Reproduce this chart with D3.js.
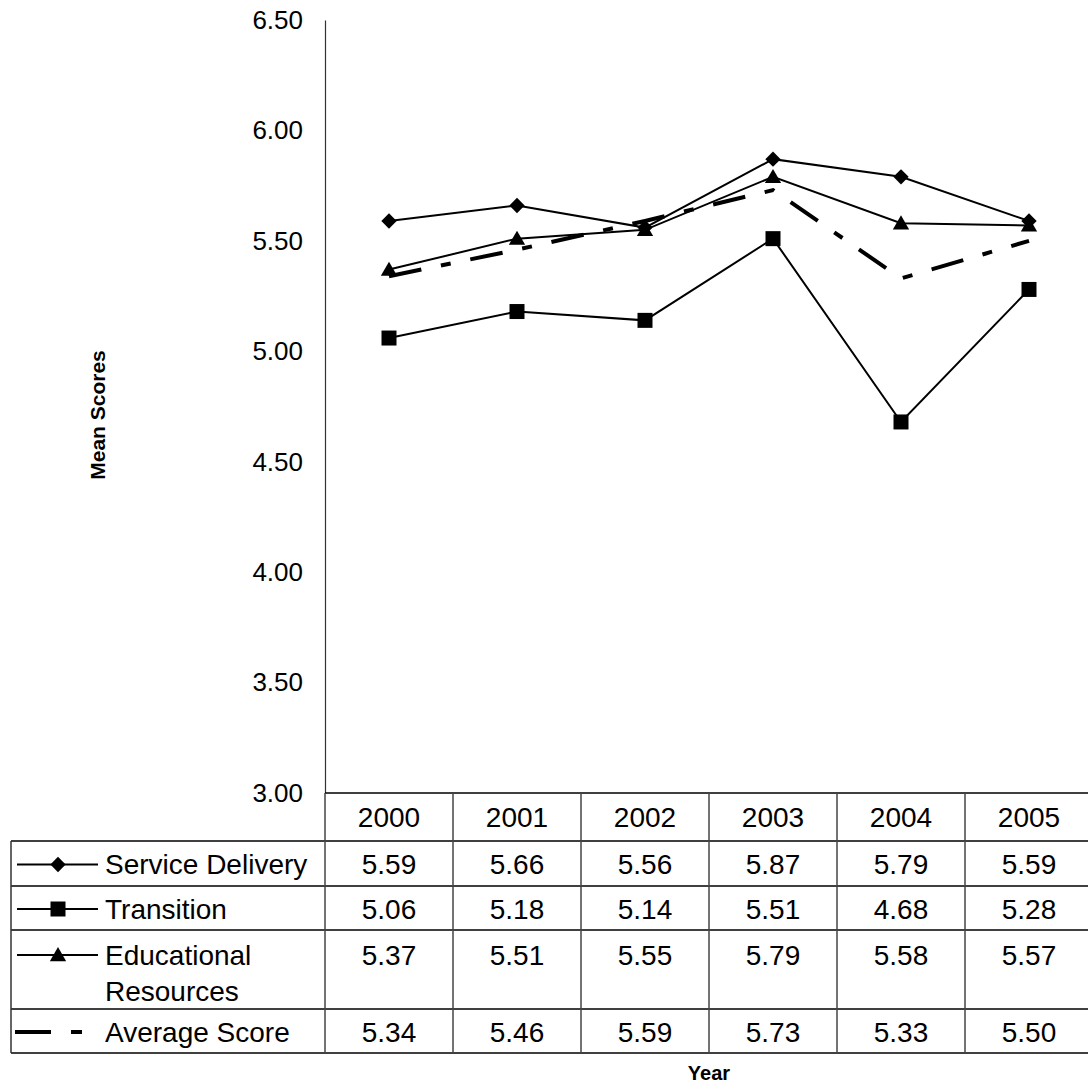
<!DOCTYPE html>
<html>
<head>
<meta charset="utf-8">
<script src="https://cdn.jsdelivr.net/npm/d3@7"></script>
<style>
  html, body { margin: 0; padding: 0; background: #fff; }
  svg { display: block; font-family: "Liberation Sans", Arial, sans-serif; }
</style>
</head>
<body>
<svg id="chart" width="1088" height="1084"></svg>
<script>
// Mean scores by year, one array per series
const years = ["2000", "2001", "2002", "2003", "2004", "2005"];
const serviceDelivery = [5.59, 5.66, 5.56, 5.87, 5.79, 5.59];
const transition = [5.06, 5.18, 5.14, 5.51, 4.68, 5.28];
const educationalResources = [5.37, 5.51, 5.55, 5.79, 5.58, 5.57];
const averageScore = [5.34, 5.46, 5.59, 5.73, 5.33, 5.50];
const yTicks = [3.0, 3.5, 4.0, 4.5, 5.0, 5.5, 6.0, 6.5];

const series = [
  { name: ["Service Delivery"], values: serviceDelivery, marker: "diamond", dashed: false },
  { name: ["Transition"], values: transition, marker: "square", dashed: false },
  { name: ["Educational", "Resources"], values: educationalResources, marker: "triangle", dashed: false },
  { name: ["Average Score"], values: averageScore, marker: null, dashed: true }
];

const svg = d3.select("#chart");

const plotLeft = 325, plotRight = 1093, plotTop = 20, plotBottom = 793;

const x = d3.scaleBand().domain(years).range([plotLeft, plotRight]).padding(0);
const y = d3.scaleLinear().domain([3, 6.5]).range([plotBottom, plotTop]);

// Y axis: line without tick marks, labels to the left
const yAxis = d3.axisLeft(y).tickValues(yTicks).tickFormat(d3.format(".2f")).tickSize(0).tickPadding(22);
const gy = svg.append("g").attr("transform", `translate(${plotLeft},0)`).call(yAxis);
gy.select(".domain").attr("stroke", "#333").attr("stroke-width", 1.2);
gy.selectAll("text").attr("font-size", 26).attr("fill", "#000")
  .attr("font-family", "Liberation Sans, Arial, sans-serif");

// Marker shapes
const markerPath = {
  diamond: d3.symbol().type(d3.symbolDiamond2).size(150),
  square: d3.symbol().type(d3.symbolSquare).size(225),
  triangle: d3.symbol().type(d3.symbolTriangle).size(115)
};

const line = d3.line()
  .x((d, i) => x(years[i]) + x.bandwidth() / 2)
  .y(d => y(d));

series.forEach(s => {
  const g = svg.append("g");
  g.append("path")
    .datum(s.values)
    .attr("d", line)
    .attr("fill", "none")
    .attr("stroke", "#000")
    .attr("stroke-width", s.dashed ? 4 : 2)
    .attr("stroke-dasharray", s.dashed ? "33,20,10,20" : null)
    .attr("stroke-linejoin", "miter");
  if (s.marker) {
    g.selectAll("path.m")
      .data(s.values)
      .join("path")
      .attr("class", "m")
      .attr("transform", (d, i) => {
        const dy = s.marker === "triangle" ? 1.5 : 0;
        return `translate(${x(years[i]) + x.bandwidth() / 2},${y(d) + dy})`;
      })
      .attr("d", markerPath[s.marker]())
      .attr("fill", "#000");
  }
});

// Data table beneath the plot
const headerTop = plotBottom, headerBottom = 841;
const rowBounds = [841, 886, 930, 1009, 1053];
const tableLeft = 11;
const tableRight = 1093;
const tableFont = 28;

const table = svg.append("g");

// horizontal rules
table.append("line")
  .attr("x1", plotLeft).attr("x2", tableRight)
  .attr("y1", headerTop).attr("y2", headerTop)
  .attr("stroke", "#000").attr("stroke-width", 1.5);
rowBounds.forEach(yy => {
  table.append("line")
    .attr("x1", tableLeft).attr("x2", tableRight)
    .attr("y1", yy).attr("y2", yy)
    .attr("stroke", "#000").attr("stroke-width", 1.5);
});

// vertical rules
table.append("line")
  .attr("x1", tableLeft).attr("x2", tableLeft)
  .attr("y1", headerBottom).attr("y2", rowBounds[rowBounds.length - 1])
  .attr("stroke", "#333").attr("stroke-width", 1.5);
years.forEach(yr => {
  const xx = x(yr);
  table.append("line")
    .attr("x1", xx).attr("x2", xx)
    .attr("y1", headerTop).attr("y2", rowBounds[rowBounds.length - 1])
    .attr("stroke", "#444").attr("stroke-width", 1.5);
});

// year header
table.selectAll("text.yr")
  .data(years)
  .join("text")
  .attr("class", "yr")
  .attr("x", d => x(d) + x.bandwidth() / 2)
  .attr("y", (headerTop + headerBottom) / 2)
  .attr("dy", "0.35em")
  .attr("text-anchor", "middle")
  .attr("font-size", tableFont)
  .text(d => d);

// rows: legend key, label, values
series.forEach((s, r) => {
  const top = rowBounds[r], bottom = rowBounds[r + 1];
  const single = s.name.length === 1;
  const keyY = single ? (top + bottom) / 2 + 1 : top + 25;

  const key = table.append("g");
  if (s.dashed) {
    key.append("line")
      .attr("x1", 15).attr("x2", 82).attr("y1", keyY).attr("y2", keyY)
      .attr("stroke", "#000").attr("stroke-width", 4)
      .attr("stroke-dasharray", "36,20,11,20");
  } else {
    key.append("line")
      .attr("x1", 17).attr("x2", 98).attr("y1", keyY).attr("y2", keyY)
      .attr("stroke", "#000").attr("stroke-width", 2);
    key.append("path")
      .attr("transform", `translate(58,${keyY + (s.marker === "triangle" ? 1.5 : 0)})`)
      .attr("d", markerPath[s.marker]())
      .attr("fill", "#000");
  }

  s.name.forEach((ln, k) => {
    table.append("text")
      .attr("x", 105)
      .attr("y", keyY + k * 36)
      .attr("dy", "0.35em")
      .attr("font-size", tableFont)
      .text(ln);
  });

  table.selectAll(null)
    .data(s.values)
    .join("text")
    .attr("x", (d, i) => x(years[i]) + x.bandwidth() / 2)
    .attr("y", keyY)
    .attr("dy", "0.35em")
    .attr("text-anchor", "middle")
    .attr("font-size", tableFont)
    .text(d => d3.format(".2f")(d));
});

// axis titles
svg.append("text")
  .attr("transform", `translate(98,415) rotate(-90)`)
  .attr("text-anchor", "middle")
  .attr("dy", "0.35em")
  .attr("font-size", 21)
  .attr("font-weight", "bold")
  .text("Mean Scores");

svg.append("text")
  .attr("x", (plotLeft + plotRight) / 2)
  .attr("y", 1073)
  .attr("dy", "0.35em")
  .attr("text-anchor", "middle")
  .attr("font-size", 20)
  .attr("font-weight", "bold")
  .text("Year");
</script>
</body>
</html>
